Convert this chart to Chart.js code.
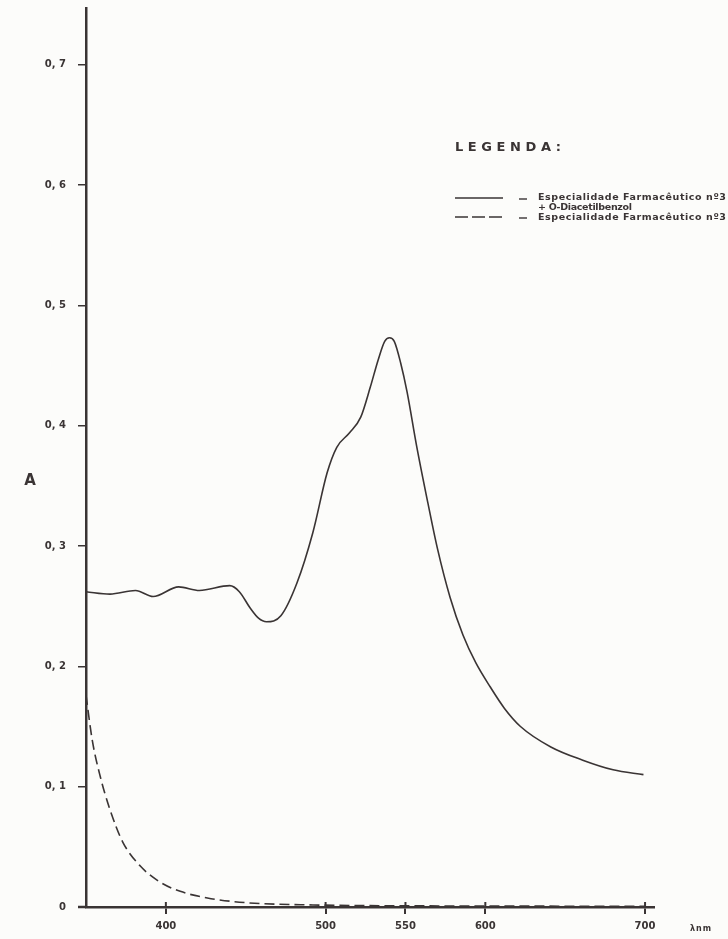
<!DOCTYPE html>
<html>
<head>
<meta charset="utf-8">
<script src="https://cdn.jsdelivr.net/npm/chart.js@4/dist/chart.umd.min.js"></script>
<style>
html,body{margin:0;padding:0;background:#fcfcfa;}
canvas{display:block;}
</style>
</head>
<body>
<canvas id="c" width="728" height="939"></canvas>
<script>
// ---- data ----
const xTickValues = [400, 500, 550, 600, 700];
const yTickValues = [0, 0.1, 0.2, 0.3, 0.4, 0.5, 0.6, 0.7];

const wavelengthsSolid = [350,365,381,392,408,421,440,446,453,458,463,472,482,492,501,507,515,522,528,533,537,540,543,547,551,557,564,570,578,586,594,603,612,622,641,661,680,699];
const absSolid = [0.262,0.260,0.263,0.258,0.266,0.263,0.267,0.262,0.248,0.240,0.237,0.242,0.269,0.311,0.361,0.382,0.394,0.407,0.432,0.455,0.470,0.473,0.470,0.452,0.428,0.383,0.336,0.298,0.257,0.226,0.203,0.183,0.165,0.150,0.133,0.122,0.114,0.110];

const wavelengthsDashed = [350,354,359,365,373,384,396,409,426,451,492,547,609,700];
const absDashed = [0.176,0.138,0.108,0.081,0.054,0.034,0.021,0.013,0.0075,0.0035,0.0017,0.001,0.0008,0.0005];

const seriesSolidLabel = 'Especialidade Farmacêutico nº3';
const seriesSolidLabel2 = '+ O-Diacetilbenzol';
const seriesDashedLabel = 'Especialidade Farmacêutico nº3';
const legendTitle = 'LEGENDA:';
const yAxisLabel = 'A';
const xUnitLabel = 'λnm';

// ---- styling ----
const INK = '#3a3434';
const BOLD = 'bold ';
const FAMILY = '"DejaVu Sans", "Liberation Sans", sans-serif';

function toPoints(xs, ys){ return xs.map((x,i)=>({x:x, y:ys[i]})); }

function fitText(ctx, text, x, y, width, font, align){
  ctx.save();
  ctx.font = font;
  ctx.letterSpacing = '0px';
  const natural = ctx.measureText(text).width;
  const n = Math.max(1, [...text].length - 1);
  const sp = (width - natural) / n;
  ctx.letterSpacing = sp.toFixed(2) + 'px';
  ctx.textAlign = align || 'left';
  ctx.textBaseline = 'middle';
  ctx.fillText(text, x, y);
  ctx.restore();
}

const decorPlugin = {
  id: 'decor',
  afterDraw(chart){
    const ctx = chart.ctx;
    const xs = chart.scales.x;
    const bottom = chart.chartArea.bottom;
    const left = chart.chartArea.left;
    ctx.save();
    // crossing x ticks (upward part) and small left overhang of the x axis
    ctx.strokeStyle = INK; ctx.lineWidth = 2;
    xs.ticks.forEach(t=>{
      const px = xs.getPixelForValue(t.value);
      ctx.beginPath(); ctx.moveTo(px, bottom - 5); ctx.lineTo(px, bottom); ctx.stroke();
    });
    ctx.lineWidth = 2.5;
    ctx.beginPath(); ctx.moveTo(left - 8, bottom); ctx.lineTo(left, bottom); ctx.stroke();
    // axis label A
    ctx.fillStyle = INK;
    ctx.font = BOLD + '15px ' + FAMILY;
    ctx.textAlign = 'center'; ctx.textBaseline = 'middle';
    ctx.fillText(yAxisLabel, 30, 481);
    // unit label
    fitText(ctx, xUnitLabel, 690, 929, 21, BOLD + '8px ' + FAMILY, 'left');
    // legend
    fitText(ctx, legendTitle, 455, 148, 106, BOLD + '13px ' + FAMILY, 'left');
    ctx.strokeStyle = INK; ctx.lineWidth = 1.6;
    ctx.beginPath(); ctx.moveTo(455, 198); ctx.lineTo(503, 198); ctx.stroke();
    ctx.setLineDash([13, 4]);
    ctx.beginPath(); ctx.moveTo(455, 217); ctx.lineTo(503, 217); ctx.stroke();
    ctx.setLineDash([]);
    ctx.lineWidth = 1.4;
    ctx.beginPath(); ctx.moveTo(519, 199); ctx.lineTo(527, 199); ctx.stroke();
    ctx.beginPath(); ctx.moveTo(519, 218); ctx.lineTo(527, 218); ctx.stroke();
    fitText(ctx, seriesSolidLabel, 538, 198, 188, BOLD + '9.5px ' + FAMILY, 'left');
    fitText(ctx, seriesSolidLabel2, 538, 208, 94, BOLD + '9.5px ' + FAMILY, 'left');
    fitText(ctx, seriesDashedLabel, 538, 218, 188, BOLD + '9.5px ' + FAMILY, 'left');
    ctx.restore();
  }
};

const bgPlugin = {
  id: 'bg',
  beforeDraw(chart){
    const ctx = chart.ctx;
    ctx.save(); ctx.fillStyle = '#fcfcfa';
    ctx.fillRect(0,0,chart.width,chart.height); ctx.restore();
  }
};

new Chart(document.getElementById('c'), {
  type: 'line',
  data: {
    datasets: [
      {
        label: seriesSolidLabel + ' ' + seriesSolidLabel2,
        data: toPoints(wavelengthsSolid, absSolid),
        borderColor: INK, borderWidth: 1.6,
        pointRadius: 0, fill: false,
        cubicInterpolationMode: 'monotone'
      },
      {
        label: seriesDashedLabel,
        data: toPoints(wavelengthsDashed, absDashed),
        borderColor: INK, borderWidth: 1.6, borderDash: [10, 5],
        pointRadius: 0, fill: false,
        cubicInterpolationMode: 'monotone'
      }
    ]
  },
  options: {
    responsive: false,
    animation: false,
    devicePixelRatio: 1,
    layout: { padding: { left: 0, top: 8, right: 74, bottom: 0 } },
    plugins: { legend: { display: false }, tooltip: { enabled: false } },
    scales: {
      x: {
        type: 'linear', min: 350, max: 705.6,
        afterBuildTicks: s => { s.ticks = xTickValues.map(v=>({value:v})); },
        afterFit: s => { s.height = 32; s.paddingLeft = 0; s.paddingRight = 0; },
        border: { display: true, color: INK, width: 2.5 },
        grid: { drawOnChartArea: false, drawTicks: true, tickLength: 7, color: INK, lineWidth: 2 },
        ticks: { color: INK, padding: 6, font: { family: FAMILY, size: 10, weight: 'bold' },
                 maxRotation: 0, autoSkip: false, callback: v => String(v) }
      },
      y: {
        type: 'linear', min: 0, max: 0.747,
        afterBuildTicks: s => { s.ticks = yTickValues.map(v=>({value:v})); },
        afterFit: s => { s.width = 86; s.paddingTop = 0; s.paddingBottom = 0; },
        border: { display: true, color: INK, width: 2.5 },
        grid: { drawOnChartArea: false, drawTicks: true, tickLength: 8, color: INK, lineWidth: 1.5 },
        ticks: { color: INK, padding: 12, font: { family: FAMILY, size: 10, weight: 'bold' },
                 autoSkip: false,
                 callback: v => v === 0 ? '0' : '0, ' + Math.round(v*10) }
      }
    }
  },
  plugins: [bgPlugin, decorPlugin]
});
</script>
</body>
</html>
